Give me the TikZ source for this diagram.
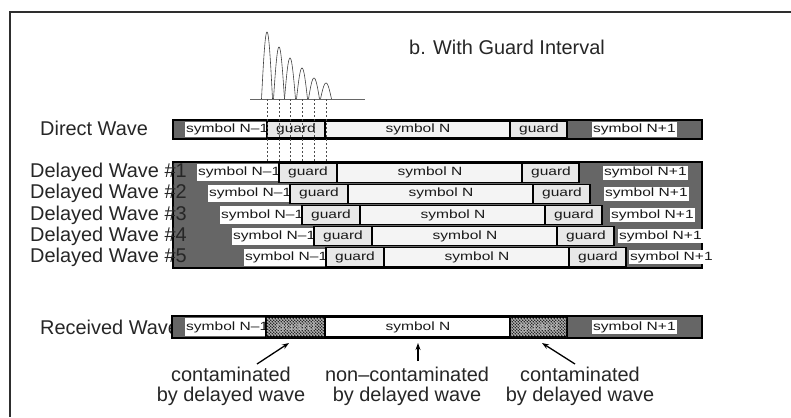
\documentclass[tikz,border=0pt]{standalone}
\usepackage{fontspec}
\setmainfont{Liberation Sans}
\newfontfamily\barfont[FakeStretch=1.3]{Liberation Sans}
\usetikzlibrary{patterns,arrows.meta}

\definecolor{darkbar}{HTML}{666666}
\definecolor{lightbox}{HTML}{F4F4F4}
\definecolor{guardbox}{HTML}{E8E8E8}
\definecolor{framecol}{HTML}{2E2E2E}

% coarse stipple used for the contaminated guard intervals
\pgfdeclarepatternformonly{stipdots}{\pgfqpoint{-1bp}{-1bp}}{\pgfqpoint{4bp}{4bp}}{\pgfqpoint{3bp}{3bp}}{%
  \pgfpathcircle{\pgfqpoint{0.75bp}{0.75bp}}{0.85bp}%
  \pgfpathcircle{\pgfqpoint{2.25bp}{2.25bp}}{0.85bp}%
  \pgfusepath{fill}}

\tikzset{
  rowlabel/.style={anchor=west, inner sep=0pt, text=black!85, font=\fontsize{20}{20}\selectfont},
  bartext/.style={inner sep=0pt, text=black!90, font=\barfont\fontsize{12}{12}\selectfont},
  tagbox/.style={bartext, fill=white, anchor=west, inner xsep=1bp, inner ysep=1.5bp},
  cell/.style={draw=black, line width=1.1bp},
  barframe/.style={draw=black, line width=1.6bp, fill=darkbar},
  stipple/.style={cell, fill=gray!45, postaction={pattern=stipdots, pattern color=black!90}},
  pulse/.style={line width=0.6bp, black!75},
  echo/.style={line width=0.5bp, black!70, dash pattern=on 2bp off 2bp},
  note/.style={align=center, inner sep=0pt, text=black!85, font=\fontsize{20}{20}\selectfont},
  pointer/.style={line width=1.3bp, -{Stealth[length=7bp,width=5bp]}}
}

% One OFDM symbol stream: #1 name, #2 top, #3 bottom, #4 delay, #5 left edge of the N+1 tag
\newcommand{\waverow}[5]{%
  \fill[white] ({185+#4},{#2+2}) rectangle ({267+#4},{#3-2});
  \node[bartext, anchor=west] (#1prev) at ({186+#4},{(#2+#3)/2}) {symbol N–1};
  \draw[cell, fill=guardbox] ({267+#4},{#2+1}) rectangle ({325+#4},{#3-1});
  \node[bartext] (#1ga) at ({296+#4},{(#2+#3)/2}) {guard};
  \draw[cell, fill=lightbox] ({325+#4},{#2+1}) rectangle ({510+#4},{#3-1});
  \node[bartext] (#1sym) at ({418+#4},{(#2+#3)/2}) {symbol N};
  \draw[cell, fill=guardbox] ({510+#4},{#2+1}) rectangle ({567+#4},{#3-1});
  \node[bartext] (#1gb) at ({539+#4},{(#2+#3)/2}) {guard};
  \node[tagbox] (#1next) at (#5,{(#2+#3)/2}) {symbol N+1};
}

\begin{document}
\begin{tikzpicture}[x=1bp, y=-1bp]
\useasboundingbox (0,0) rectangle (791,417);

% frame
\draw[framecol, line width=1.5bp] (791,12) -- (10,12) -- (10,417);

% title
\node[inner sep=0pt, text=black!85, font=\fontsize{20}{20}\selectfont] (title) at (507,47) {b. With Guard Interval};

% impulse response of the channel
\draw[line width=0.5bp, black!60] (250,99) -- (365,99);
\foreach \px/\py in {267/32, 279/47, 290/58, 302/68, 314/78, 326/83}
  \draw[pulse] plot[domain=-5.5:5.5, samples=31, smooth] ({\px+\x},{99-(99-\py)*cos(16.36*\x)});

% direct wave
\node[rowlabel] (direct) at (40,128) {Direct Wave};
\draw[barframe] (173,120) rectangle (702,139);
\waverow{d0}{120}{139}{0}{592}

% delayed waves
\draw[barframe] (173,162) rectangle (702,268);
\waverow{d1}{162}{183.2}{12}{603}
\waverow{d2}{183.2}{204.4}{23}{604}
\waverow{d3}{204.4}{225.6}{35}{610}
\waverow{d4}{225.6}{246.8}{47}{618}
\waverow{d5}{246.8}{268}{59}{629}
\node[rowlabel] (del1) at (30,172.6) {Delayed Wave \#1};
\node[rowlabel] (del2) at (30,193.8) {Delayed Wave \#2};
\node[rowlabel] (del3) at (30,215) {Delayed Wave \#3};
\node[rowlabel] (del4) at (30,236.2) {Delayed Wave \#4};
\node[rowlabel] (del5) at (30,257.4) {Delayed Wave \#5};

% echo arrival times
\foreach \px in {267, 279, 290, 302, 314, 326}
  \draw[echo] (\px,99) -- (\px,162);

% received wave
\node[rowlabel] (recv) at (40,327) {Received Wave};
\draw[barframe] (172,316) rectangle (702,338);
\fill[white] (185,318) rectangle (266,336);
\node[bartext, anchor=west] (rprev) at (186,327) {symbol N–1};
\draw[stipple] (266,317) rectangle (325,337);
\node[bartext, text=white!70!black] (rga) at (296,327) {guard};
\draw[cell, fill=white] (325,317) rectangle (510,337);
\node[bartext] (rsym) at (418,327) {symbol N};
\draw[stipple] (510,317) rectangle (567,337);
\node[bartext, text=white!70!black] (rgb) at (539,327) {guard};
\node[tagbox] (rnext) at (592,327) {symbol N+1};

% annotations
\node[note] (cleft) at (231,386) {contaminated\\by delayed wave};
\node[note] (cmid) at (407,386) {non–contaminated\\by delayed wave};
\node[note] (cright) at (580,386) {contaminated\\by delayed wave};
\coordinate (pl0) at (257,364);
\coordinate (pl1) at (289,343);
\coordinate (pm0) at (418,361);
\coordinate (pm1) at (418,343);
\coordinate (pr0) at (575,364);
\coordinate (pr1) at (542,343);
\draw[pointer] (pl0) -- (pl1);
\draw[pointer] (pm0) -- (pm1);
\draw[pointer] (pr0) -- (pr1);
\end{tikzpicture}
\end{document}
